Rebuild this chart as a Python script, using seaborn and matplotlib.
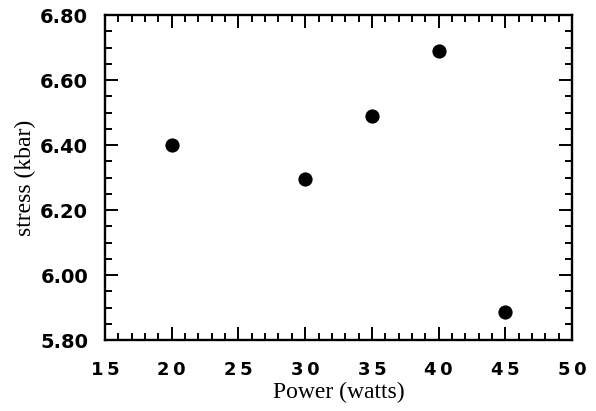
import matplotlib
matplotlib.use("Agg")
import matplotlib.pyplot as plt
from matplotlib.ticker import MultipleLocator, FormatStrFormatter
import seaborn as sns
import pandas as pd

# Film stress versus deposition power
power_watts = [20, 30, 35, 40, 45]
stress_kbar = [6.40, 6.295, 6.49, 6.69, 5.885]
x_ticks = [15, 20, 25, 30, 35, 40, 45, 50]
y_ticks = [5.80, 6.00, 6.20, 6.40, 6.60, 6.80]

df = pd.DataFrame({"power": power_watts, "stress": stress_kbar})

sns.set_style("ticks")
fig = plt.figure(figsize=(5.96, 4.11), dpi=100)
ax = fig.add_axes([0.176, 0.1727, 0.784, 0.7908])

sns.scatterplot(data=df, x="power", y="stress", ax=ax, s=105,
                color="black", edgecolor="black", linewidth=0, legend=False)

ax.set_xlim(15, 50)
ax.set_ylim(5.80, 6.80)
ax.set_xticks(x_ticks)
ax.set_yticks(y_ticks)
ax.xaxis.set_minor_locator(MultipleLocator(1))
ax.yaxis.set_minor_locator(MultipleLocator(0.05))
ax.yaxis.set_major_formatter(FormatStrFormatter("%.2f"))
# spaced digits on the power axis
ax.set_xticklabels(["\u2009".join(str(v)) for v in x_ticks])

for side in ["left", "right", "top", "bottom"]:
    ax.spines[side].set_visible(True)
    ax.spines[side].set_linewidth(1.7)
    ax.spines[side].set_color("black")

ax.tick_params(which="both", direction="in", top=True, right=True,
               color="black", labelcolor="black", width=1.4)
ax.tick_params(which="major", length=9.5)
ax.tick_params(which="minor", length=5)
ax.tick_params(axis="x", which="major", pad=15)
ax.tick_params(axis="y", which="major", pad=12)

for lbl in ax.get_xticklabels():
    lbl.set_fontfamily("DejaVu Sans")
    lbl.set_fontweight("bold")
    lbl.set_fontsize(13)
for lbl in ax.get_yticklabels():
    lbl.set_fontfamily("DejaVu Sans")
    lbl.set_fontweight("bold")
    lbl.set_fontsize(14)

ax.set_xlabel("Power (watts)", fontfamily="Liberation Serif", fontsize=17,
              color="black", labelpad=2)
ax.set_ylabel("stress (kbar)", fontfamily="Liberation Serif", fontsize=17,
              color="black", labelpad=3)

fig.savefig("out.png", dpi=100, facecolor="white")
